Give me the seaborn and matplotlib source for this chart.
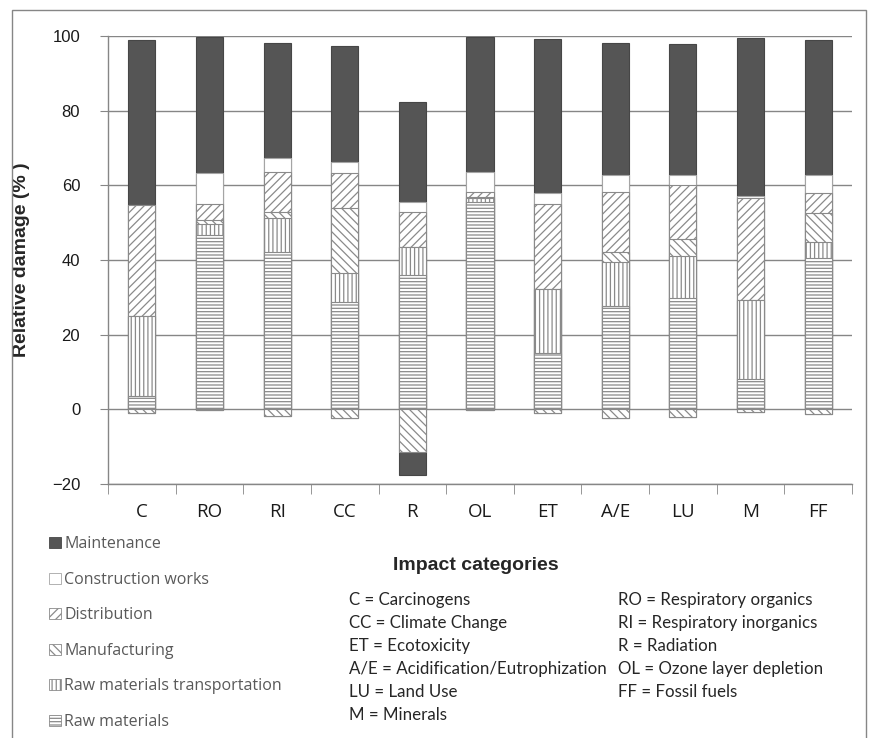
import numpy as np
import pandas as pd
import seaborn as sns
import matplotlib.pyplot as plt
from matplotlib.patches import Patch, Rectangle

# categories on the x axis
cats = ['C', 'RO', 'RI', 'CC', 'R', 'OL', 'ET', 'A/E', 'LU', 'M', 'FF']

# contributions (%), bottom to top
raw_materials = [3.7, 46.6, 42.2, 28.8, 36.0, 55.6, 15.1, 27.6, 29.7, 8.2, 40.5]
raw_transport = [21.4, 3.0, 9.0, 7.6, 7.5, 1.0, 17.0, 11.9, 11.3, 21.2, 4.3]
manufacturing = [0.0, 1.1, 1.7, 17.4, 0.0, 0.4, 0.0, 2.7, 4.5, 0.0, 7.9]
distribution = [29.5, 4.2, 10.7, 9.6, 9.4, 1.3, 23.0, 15.9, 14.6, 27.3, 5.3]
construction = [0.0, 8.3, 3.8, 2.9, 2.7, 5.3, 2.9, 4.6, 2.7, 0.4, 4.7]
maintenance = [44.3, 36.6, 30.8, 31.0, 26.6, 36.2, 41.1, 35.3, 35.1, 42.3, 36.2]

# negative parts (below zero)
manufacturing_neg = [-0.9, -0.3, -1.9, -2.4, -11.5, -0.3, -1.0, -2.2, -2.0, -0.8, -1.2]
maintenance_neg = [0, 0, 0, 0, -6.2, 0, 0, 0, 0, 0, 0]

series_names = ['Raw materials', 'Raw materials transportation', 'Manufacturing',
                'Distribution', 'Construction works', 'Maintenance']
series_vals = [raw_materials, raw_transport, manufacturing, distribution, construction, maintenance]

abbrev_left = ['C = Carcinogens', 'CC = Climate Change', 'ET = Ecotoxicity',
               'A/E = Acidification/Eutrophization', 'LU = Land Use', 'M = Minerals']
abbrev_right = ['RO = Respiratory organics', 'RI = Respiratory inorganics', 'R = Radiation',
                'OL = Ozone layer depletion', 'FF = Fossil fuels']

# styles: facecolor, edgecolor (= hatch colour), hatch
styles = {
    'Raw materials': ('white', '#8a8a8a', '-----'),
    'Raw materials transportation': ('white', '#8a8a8a', '||||'),
    'Manufacturing': ('white', '#8a8a8a', '\\\\\\\\'),
    'Distribution': ('white', '#8a8a8a', '////'),
    'Construction works': ('white', '#a5a5a5', ''),
    'Maintenance': ('#555555', '#464646', ''),
}

sns.set_style('white')
plt.rcParams['font.family'] = ['Liberation Sans', 'DejaVu Sans']
plt.rcParams['hatch.linewidth'] = 0.9

fig = plt.figure(figsize=(8.73, 7.38), dpi=100)
W, H = 873, 738
ax = fig.add_axes([108 / W, (H - 484) / H, 744 / W, 448 / H])

# stacked bars: draw cumulative totals from the top series down so each overlays the next
cum = np.cumsum(np.array(series_vals), axis=0)
for i in range(len(series_names) - 1, -1, -1):
    fc, ec, h = styles[series_names[i]]
    sns.barplot(x=cats, y=cum[i], color=fc, saturation=1, width=0.4, hatch=h,
                edgecolor=ec, linewidth=0.8, errorbar=None, ax=ax, zorder=3)

neg_cum = np.array(manufacturing_neg) + np.array(maintenance_neg)
fc, ec, h = styles['Maintenance']
sns.barplot(x=cats, y=neg_cum, color=fc, saturation=1, width=0.4, hatch=h,
            edgecolor=ec, linewidth=0.8, errorbar=None, ax=ax, zorder=3)
fc, ec, h = styles['Manufacturing']
sns.barplot(x=cats, y=manufacturing_neg, color=fc, saturation=1, width=0.4, hatch=h,
            edgecolor=ec, linewidth=0.8, errorbar=None, ax=ax, zorder=3)

ax.set_ylim(-20, 100)
ax.set_xlim(-0.5, len(cats) - 0.5)
ax.set_yticks(range(-20, 101, 20))
ax.yaxis.grid(True, color='#868686', linewidth=1)
ax.set_axisbelow(True)
for s in ['top', 'right']:
    ax.spines[s].set_visible(False)
for s in ['left', 'bottom']:
    ax.spines[s].set_color('#868686')
    ax.spines[s].set_linewidth(1)

ax.tick_params(axis='y', direction='out', length=6, color='#868686', pad=14,
               labelsize=12, labelcolor='#1a1a1a', left=True)
ax.set_xticks(range(len(cats)))
ax.set_xticklabels(cats, fontfamily=['Open Sans', 'DejaVu Sans'])
ax.set_xticks(np.arange(-0.5, len(cats), 1), minor=True)
ax.tick_params(axis='x', which='major', length=0, pad=14, labelsize=13.5, labelcolor='#1a1a1a')
ax.tick_params(axis='x', which='minor', direction='out', length=7, color='#868686', bottom=True)

ax.set_xlabel('')
ax.set_ylabel('Relative damage (% )', fontsize=14, fontweight='bold')
ax.yaxis.set_label_coords(-0.105, 0.5)

fig.text(476 / W, 1 - 565 / H, 'Impact categories', fontsize=14, fontweight='bold',
         ha='center', va='center')

# legend at bottom left (top entry = Maintenance)
handles = []
for name in series_names[::-1]:
    fc, ec, h = styles[name]
    handles.append(Patch(facecolor=fc, edgecolor=ec, hatch=h, linewidth=0.6))
fig.legend(handles, series_names[::-1], loc='upper left', bbox_to_anchor=(35 / W, 1 - 522 / H),
           frameon=False, handlelength=0.72, handleheight=0.72, handletextpad=0.2,
           labelspacing=1.22, prop={'family': ['Open Sans', 'DejaVu Sans'], 'size': 11.5},
           labelcolor='#595959')

for k, t in enumerate(abbrev_left):
    fig.text(349 / W, 1 - (600 + 23 * k) / H, t, fontsize=12.2, color='#262626',
             fontfamily=['Lato', 'DejaVu Sans'], ha='left', va='center')
for k, t in enumerate(abbrev_right):
    fig.text(618 / W, 1 - (600 + 23 * k) / H, t, fontsize=12.2, color='#262626',
             fontfamily=['Lato', 'DejaVu Sans'], ha='left', va='center')

# outer chart frame
fig.patches.append(Rectangle((12 / W, -0.05), (866 - 12) / W, 1 - 10 / H + 0.05,
                             transform=fig.transFigure, fill=False, edgecolor='#868686',
                             linewidth=1))

fig.savefig('out.png', dpi=100)
